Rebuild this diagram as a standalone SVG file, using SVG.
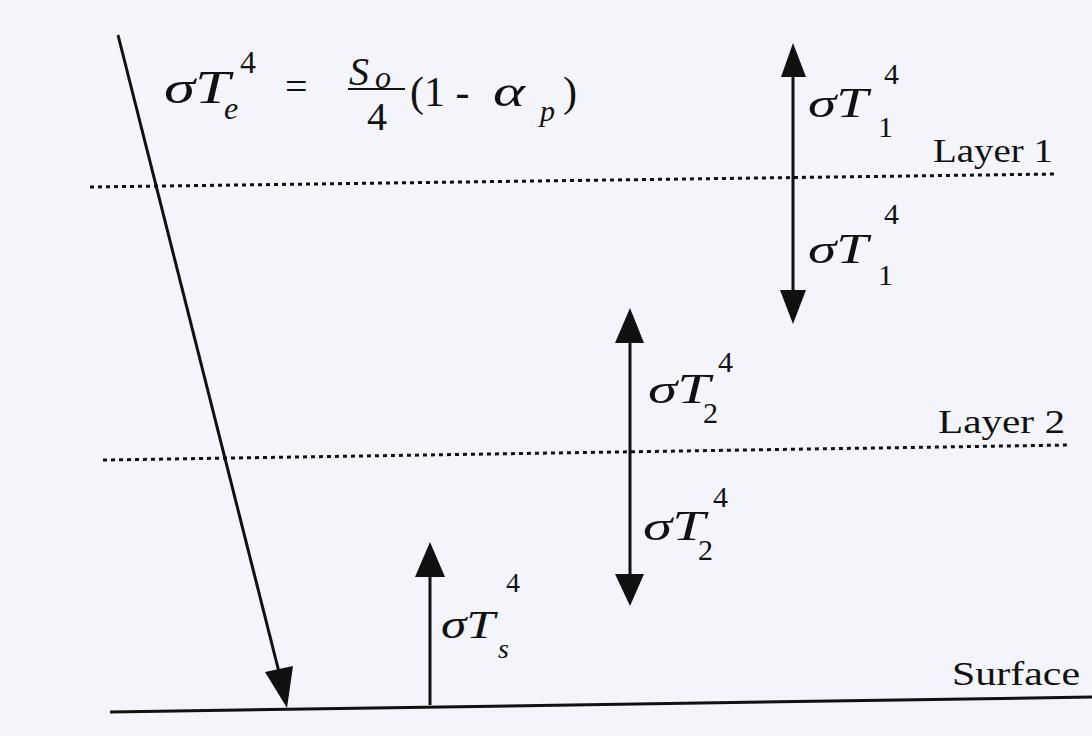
<svg xmlns="http://www.w3.org/2000/svg" width="1092" height="736" viewBox="0 0 1092 736">
<defs>
<style>
.ln{stroke:#111;stroke-width:3;fill:none}
.dot{stroke:#111;stroke-width:3;fill:none;stroke-dasharray:4 4}
.hd{fill:#111}
.m{font-family:"Times New Roman","Liberation Serif","DejaVu Serif",serif;font-style:italic;fill:#111}
.n{font-family:"Times New Roman","Liberation Serif","DejaVu Serif",serif;fill:#111}
.lab{font-family:"Times New Roman","Liberation Serif","DejaVu Serif",serif;fill:#111;font-size:33px}
</style>
</defs>
<rect width="1092" height="736" fill="#f3f5fa"/>
<g id="layers">
<line class="dot" x1="90" y1="187" x2="1056" y2="174"/>
<line class="dot" x1="103" y1="460" x2="1068" y2="445"/>
<line class="ln" x1="110" y1="712" x2="1092" y2="697"/>
</g>
<g id="connectors">
<line class="ln" x1="118" y1="35" x2="281" y2="680"/>
<polygon class="hd" points="287,708 265,672 293,666"/>
<line class="ln" x1="793" y1="70" x2="793" y2="296"/>
<polygon class="hd" points="793,43 781,77 806,77"/>
<polygon class="hd" points="793,324 780,290 806,290"/>
<line class="ln" x1="630" y1="335" x2="630" y2="580"/>
<polygon class="hd" points="630,308 615,343 644,343"/>
<polygon class="hd" points="630,606 615,574 644,574"/>
<line class="ln" x1="430" y1="570" x2="430" y2="705"/>
<polygon class="hd" points="430,542 415,577 445,577"/>
</g>
<g id="formula">
<text class="m" x="164" y="103" font-size="47" textLength="66" lengthAdjust="spacingAndGlyphs">σT</text>
<text class="m" x="224" y="119" font-size="32">e</text>
<text class="n" x="240" y="73" font-size="32">4</text>
<text class="n" x="285" y="100" font-size="40">=</text>
<text class="m" x="349" y="85" font-size="40">S</text>
<text class="m" x="375" y="88" font-size="32">o</text>
<line x1="348" y1="89" x2="405" y2="89" stroke="#111" stroke-width="2"/>
<text class="n" x="367" y="130" font-size="40">4</text>
<text class="n" x="410" y="106" font-size="42">(1 - </text>
<text class="m" x="493" y="106" font-size="44" textLength="32" lengthAdjust="spacingAndGlyphs">α</text>
<text class="m" x="540" y="121" font-size="30">p</text>
<text class="n" x="563" y="106" font-size="42">)</text>
</g>
<g id="layer1">
<text class="m" x="808" y="117" font-size="42" textLength="60" lengthAdjust="spacingAndGlyphs">σT</text>
<text class="n" x="878" y="137" font-size="30">1</text>
<text class="n" x="884" y="84" font-size="30">4</text>
<text class="lab" x="933" y="162" textLength="120" lengthAdjust="spacingAndGlyphs">Layer 1</text>
<text class="m" x="808" y="263" font-size="42" textLength="60" lengthAdjust="spacingAndGlyphs">σT</text>
<text class="n" x="878" y="285" font-size="30">1</text>
<text class="n" x="884" y="224" font-size="30">4</text>
</g>
<g id="layer2">
<text class="m" x="648" y="403" font-size="42" textLength="62" lengthAdjust="spacingAndGlyphs">σT</text>
<text class="n" x="703" y="423" font-size="30">2</text>
<text class="n" x="718" y="372" font-size="30">4</text>
<text class="lab" x="938" y="433" textLength="127" lengthAdjust="spacingAndGlyphs">Layer 2</text>
<text class="m" x="643" y="540" font-size="42" textLength="62" lengthAdjust="spacingAndGlyphs">σT</text>
<text class="n" x="698" y="560" font-size="30">2</text>
<text class="n" x="713" y="507" font-size="30">4</text>
</g>
<g id="surface">
<text class="m" x="441" y="638" font-size="40" textLength="54" lengthAdjust="spacingAndGlyphs">σT</text>
<text class="m" x="498" y="658" font-size="28">s</text>
<text class="n" x="506" y="592" font-size="28">4</text>
<text class="lab" x="952" y="685" textLength="128" lengthAdjust="spacingAndGlyphs">Surface</text>
</g>
</svg>
